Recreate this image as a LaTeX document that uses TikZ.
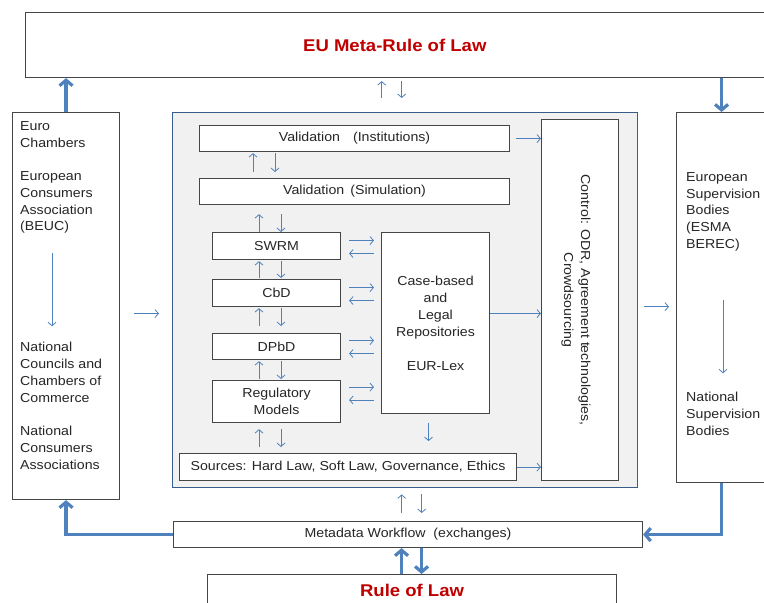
\documentclass[tikz,border=0pt]{standalone}
\usepackage{fontspec}
\setmainfont{Liberation Sans}[FakeStretch=1.09]
\usetikzlibrary{arrows.meta,calc}

\definecolor{linkblue}{RGB}{79,129,189}
\definecolor{frameblue}{RGB}{56,93,138}
\definecolor{boxgray}{RGB}{70,70,70}
\definecolor{lawred}{RGB}{192,0,0}
\definecolor{txtgray}{RGB}{38,38,38}
\definecolor{panel}{RGB}{241,241,241}

\tikzset{
  box/.style={draw=boxgray, fill=white, line width=1.1pt, inner sep=0pt, anchor=north west,
    align=center, text=txtgray, font=\fontsize{13}{17}\selectfont},
  plain/.style={inner sep=0pt, anchor=north west, align=left, text=txtgray,
    font=\fontsize{13}{16.7}\selectfont},
  title/.style={text=lawred, font=\fontsize{17}{20}\selectfont\bfseries},
  lnk/.style={draw=linkblue, line width=0.8pt, -{Straight Barb[length=3.5pt,width=8pt]}},
  biglnk/.style={draw=linkblue, line width=3.2pt, -{Straight Barb[length=5.5pt,width=13pt]}},
}

\begin{document}
\begin{tikzpicture}[x=1pt,y=-1pt]
    \useasboundingbox (0,0) rectangle (764,603);
    \clip (0,0) rectangle (764,603);

    % EU level and national level
    \node[box, title, minimum width=738.5pt, minimum height=65pt] (meta) at (25,12) {EU Meta-Rule of Law};
    \node[box, title, minimum width=409pt, minimum height=32pt] (rol) at (207,574) {Rule of Law};
    \node[box, minimum width=469pt, minimum height=26pt] (mw) at (173,521) {Metadata Workflow\ \ (exchanges)};

    % left column
    \node[box, minimum width=107pt, minimum height=387pt] (chambers) at (12,112) {};
    \node[plain] (eutxt) at (20,121.3) {Euro\\Chambers\\[17pt]European\\Consumers\\Association\\(BEUC)};
    \node[plain] (nattxt) at (20,342.3) {National\\Councils and\\Chambers of\\Commerce\\[17pt]National\\Consumers\\Associations};
    \draw[lnk] ($(eutxt.south west)+(32,19)$) -- ($(nattxt.north west)+(32,-16)$);

    % right column
    \node[box, minimum width=90pt, minimum height=370pt] (supv) at (676,112) {};
    \node[plain] (estxt) at (686,172.3) {European\\Supervision\\Bodies\\(ESMA\\BEREC)};
    \node[plain] (nstxt) at (686,392.3) {National\\Supervision\\Bodies};
    \draw[lnk] ($(estxt.south west)+(37,49)$) -- ($(nstxt.north west)+(37,-19)$);

    % core
    \node[box, draw=frameblue, fill=panel, line width=1.4pt, minimum width=465pt, minimum height=375pt] (core) at (172,112) {};
    \node[box, minimum width=310pt, minimum height=26pt] (vinst) at (199,125) {Validation\quad(Institutions)};
    \node[box, minimum width=310pt, minimum height=26pt] (vsim) at (199,178) {Validation\ \,(Simulation)};
    \node[box, minimum width=128pt, minimum height=27pt] (swrm) at (212,232) {SWRM};
    \node[box, minimum width=128pt, minimum height=27pt] (cbd) at (212,279) {CbD};
    \node[box, minimum width=128pt, minimum height=26pt] (dpbd) at (212,333) {DPbD};
    \node[box, minimum width=128pt, minimum height=42pt] (reg) at (212,380) {Regulatory\\Models};
    \node[box, minimum width=337pt, minimum height=27pt] (src) at (179,453) {Sources: Hard Law, Soft Law, Governance, Ethics};
    \node[box, minimum width=108pt, minimum height=181pt] (case) at (381,232) {Case-based\\and\\Legal\\Repositories\\[17pt]EUR-Lex};
    \node[box, minimum width=77pt, minimum height=361pt] (ctrl) at (541,119) {};
    \node[rotate=-90, align=center, text=txtgray, font=\fontsize{13}{17}\selectfont] (ctrltxt) at ($(ctrl.center)+(-4,0)$)
        {Control: ODR, Agreement technologies,\\Crowdsourcing};

    % small links in the core
    \coordinate (colA) at (259,0);
    \coordinate (colB) at (281,0);
    \foreach \u/\l/\dx/\gu/\gl in {vinst/vsim/-6/1/6, vsim/swrm/0/9/0, swrm/cbd/0/1/1, cbd/dpbd/0/1/7, dpbd/reg/0/1/1, reg/src/0/6/6} {
        \draw[lnk] ($(\l.north -| colA)+(\dx,-\gl)$) -- ($(\u.south -| colA)+(\dx,\gu)$);
        \draw[lnk] ($(\u.south -| colB)+(\dx,\gu)$) -- ($(\l.north -| colB)+(\dx,-\gl)$);
    }
    \foreach \n/\dy in {swrm/-5.5, cbd/-5.5, dpbd/-6, reg/-14.5} {
        \draw[lnk] ($(\n.east)+(8,\dy)$) -- ($(\n.east -| case.west)+(-7,\dy)$);
        \draw[lnk] ($(\n.east -| case.west)+(-7,\dy+13)$) -- ($(\n.east)+(8,\dy+13)$);
    }
    \draw[lnk] ($(case.south)+(-7,9)$) -- ($(case.south)+(-7,27)$);
    \draw[lnk] ($(vinst.east)+(6,0)$) -- (vinst.east -| ctrl.west);
    \draw[lnk] ($(case.east)+(0,-9.5)$) -- ($(case.east -| ctrl.west)+(0,-9.5)$);
    \draw[lnk] (src.east) -- (src.east -| ctrl.west);

    % links between the blocks
    \draw[lnk] ($(chambers.east)+(14,7.5)$) -- ($(chambers.east -| core.west)+(-13,7.5)$);
    \draw[lnk] ($(core.east)+(6,6.5)$) -- ($(core.east -| supv.west)+(-7,6.5)$);
    \draw[lnk] ($(core.north)+(-23.5,-14)$) -- ($(core.north |- meta.south)+(-23.5,3)$);
    \draw[lnk] ($(core.north |- meta.south)+(-3.5,3)$) -- ($(core.north)+(-3.5,-14)$);
    \draw[lnk] ($(core.south |- mw.north)+(-3.5,-8)$) -- ($(core.south)+(-3.5,6)$);
    \draw[lnk] ($(core.south)+(16.5,6)$) -- ($(core.south |- mw.north)+(16.5,-8)$);

    % main flows
    \draw[biglnk] (chambers.north) -- (chambers.north |- meta.south);
    \draw[biglnk] (supv.north |- meta.south) -- (supv.north);
    \draw[biglnk] (supv.south) |- (mw.east);
    \draw[biglnk] (mw.west) -| (chambers.south);
    \draw[biglnk] ($(rol.north)+(-10.5,0)$) -- ($(rol.north |- mw.south)+(-10.5,0)$);
    \draw[biglnk] ($(rol.north |- mw.south)+(9.5,0)$) -- ($(rol.north)+(9.5,0)$);
\end{tikzpicture}
\end{document}
